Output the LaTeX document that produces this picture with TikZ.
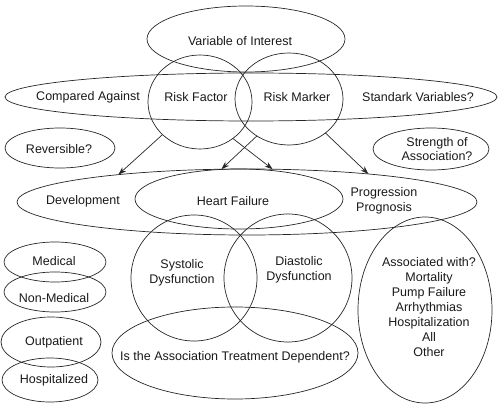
\documentclass[tikz,border=0pt]{standalone}
\usepackage{fontspec}
\setmainfont{Liberation Sans}
\usetikzlibrary{shapes.geometric,arrows.meta}
\tikzset{
  ell/.style={draw=black!85, line width=0.7pt, ellipse, inner sep=0pt, outer sep=0pt},
  lbl/.style={inner sep=0pt, align=center, font=\fontsize{12.5}{14.5}\selectfont, text=black!90},
  arr/.style={draw=black!85, line width=0.7pt, -{Stealth[length=8pt,width=5.5pt]}}
}
\begin{document}
\begin{tikzpicture}[x=1pt,y=-1pt]
\useasboundingbox (0,0) rectangle (500,406);
% ellipses
\node[ell, minimum width=198pt, minimum height=66pt] (voi) at (246,39) {};
\node[ell, minimum width=492pt, minimum height=48pt] (cmp) at (251,97) {};
\node[ell, minimum width=104pt, minimum height=94pt] (rf) at (200,102) {};
\node[ell, minimum width=108pt, minimum height=92pt] (rm) at (289,99) {};
\node[ell, minimum width=110pt, minimum height=40pt] (rev) at (60,148) {};
\node[ell, minimum width=116pt, minimum height=42pt] (str) at (431,149) {};
\node[ell, minimum width=460pt, minimum height=66pt] (dev) at (247,202) {};
\node[ell, minimum width=208pt, minimum height=60pt] (hf) at (239,199) {};
\node[ell, minimum width=126pt, minimum height=126pt] (sys) at (194,278) {};
\node[ell, minimum width=128pt, minimum height=128pt] (dia) at (288,278) {};
\node[ell, minimum width=246pt, minimum height=92pt] (trt) at (235,353) {};
\node[ell, minimum width=134pt, minimum height=186pt] (aw) at (425,310) {};
\node[ell, minimum width=102pt, minimum height=40pt] (med) at (55,262) {};
\node[ell, minimum width=102pt, minimum height=40pt] (nmed) at (55,292) {};
\node[ell, minimum width=100pt, minimum height=50pt] (outp) at (51,342) {};
\node[ell, minimum width=96pt, minimum height=44pt] (hosp) at (50,380) {};
% labels
\node[lbl] (tvoi) at (240,41) {Variable of Interest};
\node[lbl] (tcmp) at (88,97) {Compared Against};
\node[lbl] (trf) at (196,97) {Risk Factor};
\node[lbl] (trm) at (297,97) {Risk Marker};
\node[lbl] (tstd) at (418,97) {Standark Variables?};
\node[lbl] (trev) at (59,149) {Reversible?};
\node[lbl] (tstr) at (437,149) {Strength of\\Association?};
\node[lbl] (tdev) at (83,201) {Development};
\node[lbl] (thf) at (233,201) {Heart Failure};
\node[lbl] (tprog) at (384,201) {Progression\\Prognosis};
\node[lbl] (tsys) at (182,273) {Systolic\\Dysfunction};
\node[lbl] (tdia) at (299,270) {Diastolic\\Dysfunction};
\node[lbl] (ttrt) at (235,357) {Is the Association Treatment Dependent?};
\node[lbl, font=\fontsize{12.5}{15}\selectfont] (taw) at (429,307) {Associated with?\\Mortality\\Pump Failure\\Arrhythmias\\Hospitalization\\All\\Other};
\node[lbl] (tmed) at (54,261) {Medical};
\node[lbl] (tnmed) at (54,298) {Non-Medical};
\node[lbl] (toutp) at (54,342) {Outpatient};
\node[lbl] (thosp) at (54,380) {Hospitalized};
% arrows
\draw[arr] (rf.221) -- (dev.168);
\draw[arr] (rf.312) -- (dev.52);
\draw[arr] (rm.229) -- (dev.128);
\draw[arr] (rm.317) -- (dev.13);
\end{tikzpicture}
\end{document}
